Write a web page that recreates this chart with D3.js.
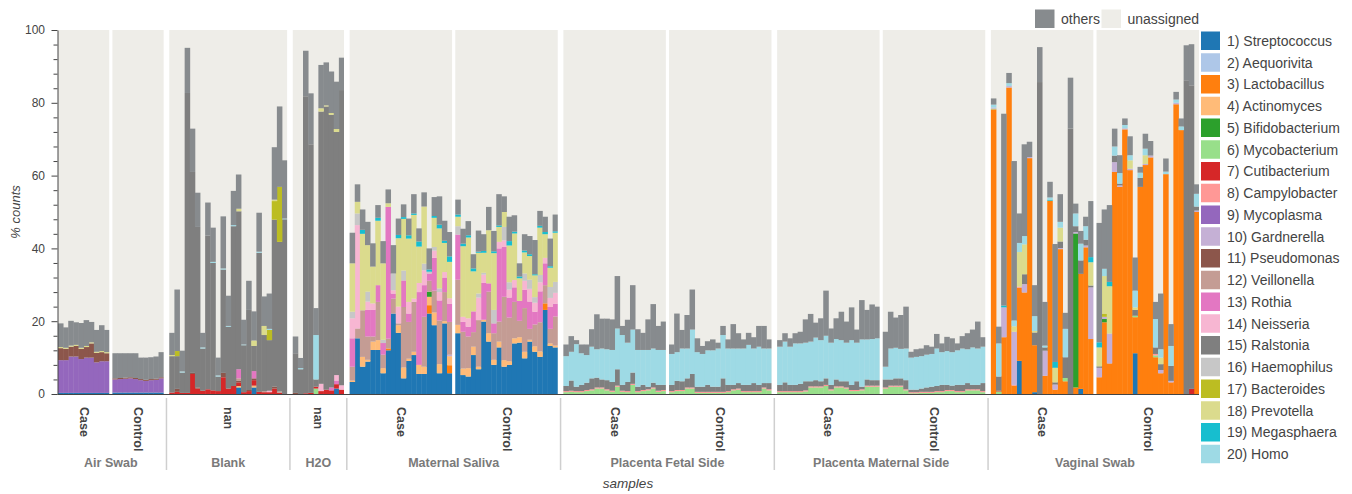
<!DOCTYPE html>
<html>
<head>
<meta charset="utf-8">
<script src="https://cdn.jsdelivr.net/npm/d3@7"></script>
<style>
  body { margin: 0; background: #fff; }
  svg { display: block; font-family: "Liberation Sans", Arial, Helvetica, sans-serif; }
</style>
</head>
<body>
<svg id="chart" width="1352" height="494"></svg>
<script>
// ---- sample layout -------------------------------------------------------
const groupNames = ["Air Swab", "Blank", "H2O", "Maternal Saliva", "Placenta Fetal Side", "Placenta Maternal Side", "Vaginal Swab"];
const subgroupLabels = [["Case", "Control"], ["nan"], ["nan"], ["Case", "Control"], ["Case", "Control"], ["Case", "Control"], ["Case", "Control"]];
const subgroupSizes = [[10, 10], [23], [10], [20, 20], [20, 20], [20, 20], [20, 20]];

const taxaNames = ["1) Streptococcus", "2) Aequorivita", "3) Lactobacillus", "4) Actinomyces", "5) Bifidobacterium",
  "6) Mycobacterium", "7) Cutibacterium", "8) Campylobacter", "9) Mycoplasma", "10) Gardnerella",
  "11) Pseudomonas", "12) Veillonella", "13) Rothia", "14) Neisseria", "15) Ralstonia",
  "16) Haemophilus", "17) Bacteroides", "18) Prevotella", "19) Megasphaera", "20) Homo"];
const taxaColors = ["#1f77b4", "#aec7e8", "#ff7f0e", "#ffbb78", "#2ca02c", "#98df8a", "#d62728", "#ff9896", "#9467bd", "#c5b0d5",
  "#8c564b", "#c49c94", "#e377c2", "#f7b6d2", "#7f7f7f", "#c7c7c7", "#bcbd22", "#dbdb8d", "#17becf", "#9edae5"];
const othersColor = "#878b8e";
const unassignedColor = "#eeede8";
const yTicks = [0, 20, 40, 60, 80, 100];

// ---- % counts per sample (rows: AirSwab Case, AirSwab Control, Blank, H2O,
//      MatSaliva Case, MatSaliva Control, PlacFetal Case, PlacFetal Control,
//      PlacMaternal Case, PlacMaternal Control, Vaginal Case, Vaginal Control)
const streptococcus = [
  0.3,0.3,0.3,0.3,0.3,0.3,0.3,0.3,0.3,0.3,
  0.4,0.4,0.4,0.4,0.4,0.4,0.4,0.4,0.4,0.4,
  0,0,0,0,0,0,0,0,0,0,0,0,0,1.8,0,0,1.8,0,0,0,0,0,0,
  0,0,0,0,0,0,0,0,1.5,0,
  3.3,15.3,7.5,8.9,12.1,12.1,5.7,12.0,22.1,16.8,4.3,9.1,10.7,5.5,5.5,22.1,18.9,5.7,19.4,5.7,
  16.7,5.2,4.8,10.7,6.8,19.9,14.4,8.0,12.8,7.5,8.0,13.9,14.1,9.8,14.4,11.6,10.2,23.1,13.2,12.8,
  0,0,0,0,0,0,0,0,0,0,0,0,0,0,0,0,0,0,0,0,
  0,0,0,0,0,0,0,0,0,0,0,0,0,0,0,0,0,0,0,0,
  0,0,0,0,0,0,0,0,0,0,0,0,0,0,0,0,0,0,0,0,
  0,0,0,0,0,0,0,0,0,0,0,0,0,0,0,0,0,0,0,0,
  0,0,0,0,0,9.1,0,0,0.5,0,0,0,0,0,0,0,0,1.4,0,0,
  0,0,0,0,0,0,0,11.2,0,0,0,0,0,0,0,0,0,0,0,0
];
const aequorivita = []; // below display threshold in every sample
const lactobacillus = [
  0,0,0,0,0,0,0,0,0,0,
  0,0,0,0,0,0,0,0,0,0,
  0,0,0,0,0,0,0,0,0,0,0,0,0,0,0,0,0,0,0,0,0,0,0,
  0,0,0,0,0,0,0,0,0,0,
  0,0,0,0,0,0,0,0.5,0,0,0,0,0,0,0,2.3,0,0,0,2.2,
  0,0,0,0,0,0,0,0,0,0,0,0,0,0,0,0,0,1.8,0,0,
  0,0,0,0,0,0,0,0,0,0,0,0,0,0,0,0,0,0,0,0,
  0,0,0,0,0,0,0,0,0,0,0,0,0,0,0,0,0,0,0,0,
  0,0,0,0,0,0,0,0,0,0,0,0,0,0,0,0,0,0,0,0,
  0,0,0,0,0,0,0,0,0,0,0,0,0,0,0,0,0,0,0,0,
  78.2,0,15.6,84.2,2.3,20.1,27.9,64.8,12.9,0,5.0,53.1,1.2,39.8,3.5,0,1.8,31.6,40.3,15.1,
  4.6,19.7,8.4,61.0,56.9,72.7,61.5,9.9,56.9,62.9,65.0,10.1,5.7,60.4,3.2,79.6,72.5,0,0,50.0
];
const actinomyces = [
  0,0,0,0,0,0,0,0,0,0,
  0,0,0,0,0,0,0,0,0,0,
  0,0,0,0,0,0,0,0,0,0,0,0,0,0.4,0,0,0.5,0,0,0,0,0,0,
  0,0,0,0,0,0,0,0,0,0,
  0.4,0,2.7,0.5,2.3,2.7,1.4,0,0,2.1,3.0,0.6,0.9,2.5,2.0,2.3,3.5,2.5,0.6,2.5,
  2.3,1.8,2.3,2.3,0.7,0.5,2.3,1.4,1.6,1.8,1.0,1.4,1.5,1.8,0.5,1.5,1.5,0,0.7,0.5,
  0,0,0,0,0,0,0,0,0,0,0,0,0,0,0,0,0,0,0,0,
  0,0,0,0,0,0,0,0,0,0,0,0,0,0,0,0,0,0,0,0,
  0,0,0,0,0,0,0,0,0,0,0,0,0,0,0,0,0,0,0,0,
  0,0,0,0,0,0,0,0,0,0,0,0,0,0,0,0,0,0,0,0,
  0,0,0,0,0,0,0,0,0,0,0,0,0,0,0,0,0,0,0,0,
  0,0,0,0,0,0,0,0,0,0,0,0,0,0,0,0,0,0,0,0
];
const bifidobacterium = [
  0,0,0,0,0,0,0,0,0,0,
  0,0,0,0,0,0,0,0,0,0,
  0,0,0,0,0,0,0,0,0,0,0,0,0,0,0,0,0,0,0,0,0,0,0,
  0,0,0,0,0,0,0,0,0,0,
  0,0,0,0,0,0,0,0,0,0,0,0,0,0,0,1.4,0,0,0,0,
  0,0,0,0,0,0,0,0,0,0,0,0,0,0,0,0,0,0,0,0,
  0,0,0,0,0,0,0,0,0,0,0,0,0,0,0,0,0,0,0,0,
  0,0,0,0,0,0,0,0,0,0,0,0,0,0,0,0,0,0,0,0,
  0,0,0,0,0,0,0,0,0,0,0,0,0,0,0,0,0,0,0,0,
  0,0,0,0,0,0,0,0,0,0,0,0,0,0,0,0,0,0,0,0,
  0,0,0,0,0,0,0,0,0,0,0,0,0,0,0,0,42.3,0,0,0,
  0,0.9,0,0,0,0,0,0,0,0,0,0,0,0,0,0,0,0,0,0
];
const mycobacterium = [
  0,0,0,0,0,0,0,0,0,0,
  0,0,0,0,0,0,0,0,0,0,
  0,0,0,0,0,0,0,0,0,0,0,0,0,0,0,0,0,0,0,0,0,0,0,
  0,0,0,0,1.5,0,0,0,0,0,
  0,0,0,0,0,0,0,0,0,0,0,0,0,0,0,0,0,0,0,0,
  0,0,0,0,0,0,0,0,0,0,0,0,0,0,0,0,0,0,0,0,
  0.5,0.6,0.5,0.5,0.8,1.0,1.5,1.5,1.0,0.6,2.0,0.6,0.5,2.5,0.5,0.8,1.0,1.5,0.6,0.8,
  0.5,0.8,0.8,1.5,1.5,0.3,0.3,0.3,0.3,0.3,0.3,0.5,1.0,1.2,0.5,0.5,0.5,0.5,1.5,1.0,
  0.5,0.5,0.5,0.5,0.5,0.7,1.8,1.8,1.8,2.2,1.0,1.8,1.8,1.5,0.8,0.8,1.0,2.0,2.0,2.0,
  1.5,2.0,2.0,2.0,1.0,0.2,0.2,0.3,0.3,0.3,0.5,0.5,0.8,0.8,0.5,0.5,1.0,1.0,1.0,0.5,
  0.2,0.7,0,0,0,0,0,0,0,0,0,0,0,0,0.9,0,0,0,0,0,
  0,0,0,0,0,0,0,0.4,0,0,0,0.5,0,0,0,0,0,0,0,0
];
const cutibacterium = [
  0,0,0,0,0,0,0,0,0,0,
  0,0,0,0,0,0,0,0,0,0,
  0.4,0.6,0.3,0.3,5.5,1.5,0.9,1.3,1.0,0.8,4.6,1.5,2.2,1.0,0.5,0.8,1.5,0.6,0.5,0.5,1.5,0.3,0,
  0,0,0.2,0.3,0.5,0.8,1.2,1.0,1.2,1.2,
  0,0,0,0,0,0,0,0,0,0,0,0,0,0,0,0,0,0,0,0,
  0,0,0,0,0,0,0,0,0,0,0,0,0,0,0,0,0,0,0,0,
  0,0,0,0,0,0,0,0,0,0,0,0,0,0,0,0,0,0,0,0,
  0,0,0,0,0,0,0,0,0,0,0,0,0,0,0,0,0,0,0,0,
  0,0,0,0,0,0,0,0,0,0,0,0,0,0,0,0,0,0,0,0,
  0,0,0,0,0,0,0,0,0,0,0,0,0,0,0,0,0,0,0,0,
  0,0.2,0,0,0,0,0,0,0,0,0,0,0,0,0,0,0,0,0,0,
  0,0,0,0,0,0,0,0,0,0,0,0,0,0,0,0,0,0,1.4,0
];
const campylobacter = [
  0,0,0,0,0,0,0,0,0,0,
  0,0,0,0,0,0,0,0,0,0,
  0,0,0,0,0,0,0,0,0,0,0,0,0,0,0,0,0,0,0,0,0,0,0,
  0,0,0,0,0,0,0,0,0,0,
  0,0,0,0,0,0,0,0,0,0,0,0,0,0,0,0,0,0,0,0,
  0,0,0,0,0,0,0,0,0,0,0,0,0,0,0,0,0,0,0,0,
  0.3,0.3,0.3,0.3,0.3,0.3,0.3,0.3,0.3,0.3,0.3,0.3,0.3,0.3,0.3,0.3,0.3,0.3,0.3,0.3,
  0.3,0.3,0.3,0.3,0.3,0.3,0.3,0.3,0.3,0.3,0.3,0.3,0.3,0.3,0.3,0.3,0.3,0.3,0.3,0.3,
  0.3,0.3,0.3,0.3,0.3,0.3,0.3,0.3,0.3,0.3,0.3,0.3,0.3,0.3,0.3,0.3,0.3,0.3,0.3,0.3,
  0.3,0.3,0.3,0.3,0.3,0.3,0.3,0.3,0.3,0.3,0.3,0.3,0.3,0.3,0.3,0.3,0.3,0.3,0.3,0.3,
  0,0,0,0,0.2,0.3,0,0,0,0,0,0,0,0,0,0,0,0,0,0,
  0,0,0,0,0,0,0,0,0,0,0,0.4,0,0,0,0,0,0,0,0
];
const mycoplasma = [
  9.0,9.0,10.0,10.0,9.3,9.7,9.7,8.4,8.7,8.7,
  3.6,3.7,3.8,3.9,3.7,3.4,3.2,3.4,3.5,3.9,
  0,0,0,0,0,0,0,0,0,0,0,0,0,0,0,0,0,0,0,0,0,0,0,
  0,0,0,0,0,0,0,0,0,0,
  0,0,0,0,0,0,0,0,0,0,0,0,0,0,0,0,0,0,0,0,
  0,0,0,0,0,0,0,0,0,0,0,0,0,0,0,0,0,0,0,0,
  0,0,0,0,0,0,0,0,0,0,0,0,0,0,0,0,0,0,0,0,
  0,0,0,0,0,0,0,0,0,0,0,0,0,0,0,0,0,0,0,0,
  0,0,0,0,0,0,0,0,0,0,0,0,0,0,0,0,0,0,0,0,
  0,0,0,0,0,0,0,0,0,0,0,0,0,0,0,0,0,0,0,0,
  0,0,0,0,0,0,0,0,0,0,0,0,0,0,0,0,0,0,0,0,
  0,0,0,0,0,0,0,0,0,0,0,0,0,0,0,0,0,0,0,0
];
const gardnerella = [
  0,0,0,0,0,0,0,0,0,0,
  0,0,0,0,0,0,0,0,0,0,
  0,0,0,0,0,0,0,0,0,0,0,0,0,0,0,0,0,0,0,0,0,0,0,
  0,0,0,0,0,0,0,0,0,0,
  0,0,0,0,0,0,0,0,0,0,0,0,0,0,0,0,0,0,0,0.4,
  0,0,0,0,0,0,0,0,0,0,0,0,0,0,0,0,0,0,0,0,
  0,0,0,0,0,0,0,0,0,0,0,0,0,0,0,0,0,0,0,0,
  0,0,0,0,0,0,0,0,0,0,0,0,0,0,0,0,0,0,0,0,
  0,0,0,0,0,0,0,0,0,0,0,0,0,0,0,0,0,0,0,0,
  0,0,0,0,0,0,0,0,0,0,0,0,0,0,0,0,0,0,0,0,
  0.3,0,8.2,0.4,14.6,0,2.3,0.3,0,0,6.9,0,1.4,0.3,0,0,0.4,0,0.5,14.2,
  2.6,0.6,8.2,2.7,0.4,0.3,0.4,0,0,0.3,0.5,0,0.9,0,0.4,0.4,0,0,0,0.4
];
const pseudomonas = [
  3.3,3.1,2.7,2.9,2.8,2.9,3.9,2.6,2.5,2.2,
  0.3,0.3,0.3,0.3,0.3,0.3,0.3,0.3,0.3,0.3,
  0,0.8,0,0,0.3,0.3,0,0,0,0,1.2,0,0,0.5,0,0.3,0.5,0,0,0,0.5,0,0,
  0.3,0,0,0,0,0,0,0,0,0,
  0,0,0,0,0,0,0,0,0,0,0,0,0,0,0,0,0,0,0,0,
  0,0,0,0,0,0,0,0,0,0,0,0,0,0,0,0,0,0,0,0,
  0,0,0,0,0,0,0,0,0,0,0,0,0,0,0,0,0,0,0,0,
  0,0,0,0,0,0,0,0,0,0,0,0,0,0,0,0,0,0,0,0,
  0,0,0,0,0,0,0,0,0,0,0,0,0,0,0,0,0,0,0,0,
  0,0,0,0,0,0,0,0,0,0,0,0,0,0,0,0,0,0,0,0,
  0,0,0,0,0,0,0,0,0,0,0,0,0,0,0,0,0,0,0,0,
  0,0,0,0,0,0,0,0,0,0,0,0,0,0,0,0,0,0,0,0
];
const veillonella = [
  0,0,0,0,0,0,0,0,0,0,
  0,0,0,0,0,0,0,0,0,0,
  0,0,0,0,0,0,0,0,0,0,0,0,0,0.6,0,0,0,0,0.3,0,0,0.4,0,
  0,0,0,0,0,0,0,0,0,0,
  3.8,2.7,12.8,6.4,1.4,10.5,3.7,2.7,4.1,0.5,16.6,10.1,13.7,0,13.7,3.0,6.0,12.0,8.0,9.0,
  12.4,10.1,8.7,4.0,12.8,0,11.4,7.3,5.5,17.4,12.0,10.0,4.5,12.0,3.0,6.0,8.0,5.0,4.0,8.0,
  0,0,0,0,0,0,0,0,0,0,0,0,0,0,0,0,0,0,0,0,
  0,0,0,0,0,0,0,0,0,0,0,0,0,0,0,0,0,0,0,0,
  0,0,0,0,0,0,0,0,0,0,0,0,0,0,0,0,0,0,0,0,
  0,0,0,0,0,0,0,0,0,0,0,0,0,0,0,0,0,0,0,0,
  0,0,0,0,0,0,0,0,0,0,0,0,0,0,0,0,0,0,0,0,
  0,0,0,0,0,0,0,0,0,0,0,0,0,0,0,0,0,0,0,0
];
const rothia = [
  0,0,0,0,0,0,0,0,0,0,
  0,0,0,0,0,0,0,0,0,0,
  0,0,0,0,0,0,0,0,0,0,0,0,0,2.5,0,0,2.0,0,0,0,0,0,0,
  0,0,0,0,0,0,0,0.8,1.0,0,
  7.8,0,0,7.3,7.3,4.6,3.2,36.2,1.4,0,7.3,2.3,0,20.0,8.7,2.0,9.0,5.5,4.0,5.0,
  12.4,2.7,2.7,5.7,0,10.1,2.3,2.7,20.1,13.7,5.5,4.0,5.5,5.0,7.5,3.5,8.5,6.0,6.0,3.5,
  0,0,0,0,0,0,0,0,0,0,0,0,0,0,0,0,0,0,0,0,
  0,0,0,0,0,0,0,0,0,0,0,0,0,0,0,0,0,0,0,0,
  0,0,0,0,0,0,0,0,0,0,0,0,0,0,0,0,0,0,0,0,
  0,0,0,0,0,0,0,0,0,0,0,0,0,0,0,0,0,0,0,0,
  0,0,0,0,0,0,0,0,0,0,0,0,0,0,0,0,0,0,0,0,
  0,0,0,0,0,0,0,0,0,0,0,0,0,0,0,0,0,0,0,0
];
const neisseria = [
  0,0,0,0,0,0,0,0,0,0,
  0,0,0,0,0,0,0,0,0,0,
  0,0,0,0,0,0,0,0,0,0,0,0,0,0,0,0,0,0,0,0.4,0,0,0,
  0,0,0,0,0,2.0,0,0,1.5,1.2,
  5.5,28.4,0,2.3,1.8,0,0,0,0.9,4.6,0,3.2,0.9,2.5,4.1,0,2.0,2.3,1.5,1.5,
  0,1.4,2.3,0,6.2,2.3,0,0,1.8,1.8,2.2,2.0,0,2.5,3.5,2.5,2.5,1.5,2.5,3.0,
  0,0,0,0,0,0,0,0,0,0,0,0,0,0,0,0,0,0,0,0,
  0,0,0,0,0,0,0,0,0,0,0,0,0,0,0,0,0,0,0,0,
  0,0,0,0,0,0,0,0,0,0,0,0,0,0,0,0,0,0,0,0,
  0,0,0,0,0,0,0,0,0,0,0,0,0,0,0,0,0,0,0,0,
  0,0,0,0,0,0,0,0,0,0,0,0,0,0,0,0,0,0,0,0,
  0,0,0,0,0,0,0,0,0,0,0,0,0,0,0,0,0,0,0,0
];
const ralstonia = [
  0,0,0,0,0,0,0,0,0,0,
  0,0,0,0,0,0,0,0,0,0,
  10.0,9.0,5.6,82.4,55.2,44.1,11.6,42.2,35.0,4.0,28.4,17.0,43.9,43.4,12.9,22.0,6.9,38.2,15.4,13.9,45.9,41.1,48.0,
  10.9,6.8,81.6,68.3,2.0,74.8,77.8,74.9,66.8,81.1,
  0,0,0,0,0,0,0,0,0,0,0,0,0,0,0,0,0,0,0,0,
  0,0,0,0,0,0,0,0,0,0,0,0,0,0,0,0,0,0,0,0,
  1.4,2.8,1.2,1.7,2.0,3.0,2.7,2.2,2.5,2.4,4.5,1.6,2.5,3.1,1.2,1.4,0.7,1.3,1.6,1.4,
  1.7,2.5,2.4,2.5,3.7,1.4,1.4,1.9,1.4,1.4,3.7,1.7,1.2,1.5,1.7,1.7,2.2,1.7,1.2,1.7,
  1.7,2.4,1.7,1.7,2.0,2.5,1.4,1.7,1.4,1.8,1.2,1.9,1.4,1.7,1.4,2.4,0.7,1.7,1.5,1.5,
  2.2,1.7,2.0,2.0,2.5,0.7,0.7,0.9,1.2,1.4,1.4,1.7,1.4,1.2,1.7,1.7,1.7,1.2,1.2,2.2,
  0,3.9,0,0,0,0,2.7,0,3.5,85.7,0.9,0,0.6,1.8,5.7,72.9,1.6,3.7,1.6,0.5,
  0.4,0,0,1.8,0.5,0,0,1.6,2.5,0,0,1.8,1.6,0,4.1,0,0,86.2,83.4,1.1
];
const haemophilus = [
  0,0,0,0,0,0,0,0,0,0,
  0,0,0,0,0,0,0,0,0,0,
  0,0,0,0,0,0,0,0,0,0,0,0,0,0,0,0,0,0,0,0,0,0,0,
  0,0,0,0,0,0,0,0,0,0,
  1.8,3.2,0,2.7,0,0,0.9,0,4.6,0,2.7,0,0,0,1.8,0.5,1.0,1.0,0,0,
  2.3,0,0,0,1.1,0.5,0,3.7,0,3.7,2.0,0,0,2.0,2.5,1.5,2.0,0,3.0,3.0,
  0,0,0,0,0,0,0,0,0,0,0,0,0,0,0,0,0,0,0,0,
  0,0,0,0,0,0,0,0,0,0,0,0,0,0,0,0,0,0,0,0,
  0,0,0,0,0,0,0,0,0,0,0,0,0,0,0,0,0,0,0,0,
  0,0,0,0,0,0,0,0,0,0,0,0,0,0,0,0,0,0,0,0,
  0,0,0,0,0,0,0,0,0,0,0,0,0,0,0,0,0,0,0,0,
  0,0,0,0,0,0,0,0,0,0,0,0,0,0,0,0,0,0,0,0
];
const bacteroides = [
  0,0,0,0,0,0,0,0,0,0,
  0,0,0,0,0,0,0,0,0,0,
  0,1.4,0,0,0,0,0,0,0,0,0,0,0,0,0,0,0,0,0,2.8,5.1,15.1,0,
  0,0,0,0,0,0,0,0,0,0,
  0,0,0,0,0,0,0,0,0,0,0,0,0,0,0,0,0,0,0,0,
  0,0,0,0,0,0,0,0,0,0,0,0,0,0,0,0,0,0,0,0,
  0,0,0,0,0,0,0,0,0,0,0,0,0,0,0,0,0,0,0,0,
  0,0,0,0,0,0,0,0,0,0,0,0,0,0,0,0,0,0,0,0,
  0,0,0,0,0,0,0,0,0,0,0,0,0,0,0,0,0,0,0,0,
  0,0,0,0,0,0,0,0,0,0,0,0,0,0,0,0,0,0,0,0,
  0,0,0,0,0,0,0,0,0,0,0,0,0,0,0,0,0,0,0,0,
  0,0.9,0,0,0,0,0,0,0,0,0,0,0,0,0,0,0,0,0,0
];
const prevotella = [
  0.3,0.3,0.3,0.3,0.3,0.3,0.3,0.3,0.3,0.3,
  0,0,0,0,0,0,0,0,0,0,
  0.3,0,0,0,0,0,0,0,0,0,0,0,0,0.7,0,0,1.5,0,2.5,0,0.4,0,0,
  0,0,0,0,0,0.9,0.3,0.5,0.8,0,
  13.3,3.2,21.0,12.8,10.1,17.7,21.0,1.0,0,18.8,14.2,17.4,23.0,10.0,15.7,0,8.0,16.5,8.0,10.0,
  2.6,19.4,22.2,11.0,11.2,5.5,14.6,15.6,4.1,4.1,10.1,12.8,6.2,5.8,6.5,6.0,13.0,6.5,5.3,13.5,
  0,0,0,0,0,0,0,0,0,0,0,0,0,0,0,0,0,0,0,0,
  0,0,0,0,0,0,0,0,0,0,0,0,0,0,0,0,0,0,0,0,
  0,0,0,0,0,0,0,0,0,0,0,0,0,0,0,0,0,0,0,0,
  0,0,0,0,0,0,0,0,0,0,0,0,0,0,0,0,0,0,0,0,
  0,0,0,0,1.5,9.5,8.2,0,0.4,0,0,0,4.0,3.8,0,0,0,0,0,6.4,
  5.2,10.3,13.0,0,0,0,2.3,0.7,0,2.4,0,0,1.8,0,0,0,0,0,0,0
];
const megasphaera = [
  0,0,0,0,0,0,0,0,0,0,
  0,0,0,0,0,0,0,0,0,0,
  0,0,0,0,0,0,0,0,0,0,0,0,0,0,0,0,0,0,0,0,0,0,0,
  0,0,0,0,0,0,0,0,0,0,
  0,0,1.1,0,0,0.8,0,0,0,0.9,0.5,0.9,0.4,1.4,0,0.6,0.5,1.0,0.6,1.5,
  0.6,0.7,0.6,0.8,0.3,0.5,0,0.5,0.4,0,1.2,0.5,0.5,0.5,0.5,0.3,0.5,0.6,0.4,0.4,
  0,0,0,0,0,0,0,0,0,0,0,0,0,0,0,0,0,0,0,0,
  0,0,0,0,0,0,0,0,0,0,0,0,0,0,0,0,0,0,0,0,
  0,0,0,0,0,0,0,0,0,0,0,0,0,0,0,0,0,0,0,0,
  0,0,0,0,0,0,0,0,0,0,0,0,0,0,0,0,0,0,0,0,
  0,0,0.5,0,0,0,0,0,0,0,0,0.3,1.6,0,0,0,0,0,0,1.4,
  1.4,0,1.2,0,0,0,0,0,0,0,0,0,0,0,0,0,0,0,0,0
];
const homo = [
  0,0,0,0,0,0,0,0,0,0,
  0,0,0,0,0,0,0,0,0,0,
  0,0,0.3,0,0,0,0.3,0,0.3,0.3,0.3,0.2,0.3,0,0.2,0,0,0.3,0,0.3,0,0,0.2,
  0,0.3,0,0,12.2,0,0,0,0,0,
  0,0,0,0,0,0,0,0,0,0,0,0,0,0,0,0,0,0,0,0,
  0,0,0,0,0,0,0,0,0,0,0,0,0,0,0,0,0,0,0,0,
  8.2,7.9,11.7,8.7,7.6,8.7,7.8,8.5,8.5,8.8,11.2,13.7,10.8,11.8,10.1,9.6,10.1,9.4,9.6,9.6,
  8.5,7.9,9.0,8.2,12.2,9.5,9.0,9.5,10.0,10.5,11.9,10.0,10.0,9.5,10.0,11.0,9.5,10.5,9.5,9.5,
  10.5,11.2,10.5,11.4,11.1,10.6,10.9,11.7,11.3,11.7,11.6,11.1,11.3,10.6,12.3,10.6,13.0,11.0,11.3,11.5,
  3.5,8.5,8.4,8.1,8.7,8.8,9.0,8.9,9.0,9.0,10.3,9.0,9.3,9.2,9.5,10.0,9.3,10.3,10.0,10.0,
  0.8,9.1,0,0.8,1.6,2.5,2.3,0,4.1,0,0.5,0.6,0,1.6,7.8,0,3.5,4.6,3.7,0,
  0,2.0,0,2.5,2.9,0.9,1.4,4.6,1.4,1.8,0,7.8,2.3,0.7,5.5,0.9,1.0,0,0,3.5
];
const others = [
  6.5,5.6,6.8,6.2,6.8,7.1,5.6,6.0,7.1,6.1,
  6.9,6.8,6.7,6.6,6.8,5.9,6.1,6.0,6.1,6.9,
  6.1,16.9,5.7,12.4,11.9,9.4,4.0,9.1,9.4,4.9,14.3,8.3,9.4,9.4,6.8,8.0,8.0,10.7,8.1,9.7,14.4,22.1,16.0,
  4.6,2.8,12.5,14.0,7.4,11.9,11.8,11.4,13.0,8.9,
  8.4,4.8,5.6,6.4,6.4,3.5,6.1,3.8,7.8,4.5,3.5,4.6,5.3,3.6,3.9,5.8,5.2,7.8,5.5,6.7,
  4.1,4.1,3.9,3.9,5.8,4.6,6.4,5.6,8.6,4.3,6.7,4.5,3.6,4.5,5.0,9.4,4.1,4.2,7.6,4.6,
  3.2,4.3,1.1,2.4,2.9,4.8,9.6,8.2,8.4,8.4,14.4,2.5,6.3,12.2,5.7,4.7,8.4,12.2,6.6,7.8,
  2.6,10.6,5.1,9.2,11.0,3.8,2.2,2.5,3.0,1.6,2.5,2.5,6.7,4.2,2.5,3.3,3.1,5.7,6.2,2.5,
  1.8,2.3,2.3,2.8,3.2,6.4,7.6,4.1,6.0,12.4,3.9,5.7,7.8,5.8,9.0,3.6,10.8,8.1,9.5,8.7,
  9.6,10.1,8.3,9.3,11.5,1.6,2.1,2.1,2.6,2.0,4.0,2.4,3.9,3.8,1.9,3.4,4.4,4.9,7.4,2.6,
  1.7,4.6,52.7,2.8,43.8,8.1,25.2,4.2,8.5,9.6,12.0,4.3,32.4,7.6,4.4,14.0,2.7,3.5,2.6,15.4,
  32.8,16.3,21.1,4.9,4.9,1.8,5.2,9.1,1.6,4.1,4.0,4.7,15.3,3.6,6.0,2.1,2.2,9.6,11.3,2.6
];

const seriesValues = [streptococcus, aequorivita, lactobacillus, actinomyces, bifidobacterium,
  mycobacterium, cutibacterium, campylobacter, mycoplasma, gardnerella,
  pseudomonas, veillonella, rothia, neisseria, ralstonia,
  haemophilus, bacteroides, prevotella, megasphaera, homo, others];
const seriesKeys = taxaNames.concat(["others"]);
const seriesColors = taxaColors.concat([othersColor]);

// ---- positions on a continuous unit axis (one unit per sample) ----------
const SUB_GAP = 0.62, GROUP_GAP = 1.1;
const slots = [], subSpans = [], groupSpans = [];
let u = 0, idx = 0;
groupNames.forEach((g, gi) => {
  if (gi > 0) u += GROUP_GAP;
  const gStart = u;
  subgroupSizes[gi].forEach((n, si) => {
    if (si > 0) u += SUB_GAP;
    const sStart = u;
    for (let k = 0; k < n; k++) { slots.push({ i: idx++, u0: u, last: k === n - 1 }); u += 1; }
    subSpans.push({ label: subgroupLabels[gi][si], u0: sStart, u1: u });
  });
  groupSpans.push({ label: g, u0: gStart, u1: u });
});

const svg = d3.select("#chart");
const x = d3.scaleLinear().domain([0, u]).range([58, 1199]);
const y = d3.scaleLinear().domain([0, 100]).range([394, 30]);

// rows for d3.stack
const rows = slots.map(s => {
  const r = {};
  seriesKeys.forEach((k, j) => { r[k] = seriesValues[j][s.i] || 0; });
  return r;
});
const stacked = d3.stack().keys(seriesKeys)(rows);

// unassigned background for each sub-group (fills to 100%)
svg.append("g").selectAll("rect").data(subSpans).join("rect")
  .attr("x", d => x(d.u0)).attr("width", d => x(d.u1) - x(d.u0))
  .attr("y", y(100)).attr("height", y(0) - y(100))
  .attr("fill", unassignedColor);

// stacked bars
const barsG = svg.append("g");
stacked.forEach((layer, j) => {
  barsG.append("g").attr("fill", seriesColors[j])
    .selectAll("rect")
    .data(layer.map((d, i) => ({ d, s: slots[i] })).filter(e => e.d[1] - e.d[0] > 0))
    .join("rect")
    .attr("x", e => x(e.s.u0))
    .attr("width", e => x(e.s.u0 + 1) - x(e.s.u0) + (e.s.last ? 0 : 0.4))
    .attr("y", e => y(e.d[1]))
    .attr("height", e => y(e.d[0]) - y(e.d[1]));
});

// ---- y axis ---------------------------------------------------------------
const axisColor = "#444";
const yAxis = svg.append("g").attr("transform", "translate(57.5,0)")
  .call(d3.axisLeft(y).tickValues(yTicks).tickSize(6).tickPadding(6.5).tickSizeOuter(0));
yAxis.selectAll("text").attr("font-size", 12).attr("fill", axisColor)
  .attr("font-family", "'Liberation Sans', Arial, sans-serif");
yAxis.selectAll("line, path").attr("stroke", axisColor);
const minor = d3.range(0, 101, 4).filter(v => v % 20 !== 0);
svg.append("g").attr("transform", "translate(57.5,0)")
  .call(d3.axisLeft(y).tickValues(minor).tickSize(4).tickFormat("").tickSizeOuter(0))
  .call(g => g.select(".domain").remove())
  .selectAll("line").attr("stroke", axisColor);

svg.append("text")
  .attr("transform", "translate(19.5,212) rotate(-90)")
  .attr("text-anchor", "middle").attr("font-size", 13).attr("font-style", "italic")
  .attr("fill", axisColor).text("% counts");

// ---- x axis (nested categorical) -----------------------------------------
svg.append("line").attr("x1", 57.5).attr("x2", 1199).attr("y1", 394.5).attr("y2", 394.5)
  .attr("stroke", axisColor).attr("stroke-width", 1);

svg.append("g").selectAll("text").data(subSpans).join("text")
  .attr("transform", d => `translate(${(x(d.u0) + x(d.u1)) / 2},407) rotate(90)`)
  .attr("dominant-baseline", "central")
  .attr("font-size", 12.5).attr("font-weight", "bold").attr("fill", axisColor)
  .text(d => d.label);

svg.append("g").selectAll("text").data(groupSpans).join("text")
  .attr("x", d => (x(d.u0) + x(d.u1)) / 2).attr("y", 467)
  .attr("text-anchor", "middle").attr("font-size", 12.5).attr("font-weight", "bold")
  .attr("fill", "#7a7a7a").text(d => d.label);

// separators between groups
const seps = groupSpans.slice(1).map((g, i) => (x(groupSpans[i].u1) + x(g.u0)) / 2);
svg.append("g").selectAll("line").data(seps).join("line")
  .attr("x1", d => d).attr("x2", d => d).attr("y1", 398).attr("y2", 470)
  .attr("stroke", "#cfcfcf").attr("stroke-width", 1.5);

svg.append("text").attr("x", 628).attr("y", 488)
  .attr("text-anchor", "middle").attr("font-size", 13.5).attr("font-style", "italic")
  .attr("fill", axisColor).text("samples");

// ---- legends ----------------------------------------------------------------
const legendFont = 14;
const topLegend = [{ label: "others", color: othersColor, x: 1035 }, { label: "unassigned", color: unassignedColor, x: 1101.5 }];
const tl = svg.append("g").selectAll("g").data(topLegend).join("g");
tl.append("rect").attr("x", d => d.x).attr("y", 9.5).attr("width", 19.5).attr("height", 18.5).attr("fill", d => d.color);
tl.append("text").attr("x", d => d.x + 26).attr("y", 18.75).attr("dominant-baseline", "central")
  .attr("font-size", legendFont).attr("fill", axisColor).text(d => d.label);

const rl = svg.append("g").selectAll("g").data(taxaNames).join("g")
  .attr("transform", (d, i) => `translate(1201,${31.5 + i * 21.75})`);
rl.append("rect").attr("width", 19).attr("height", 18.5).attr("fill", (d, i) => taxaColors[i]);
rl.append("text").attr("x", 26).attr("y", 9.25).attr("dominant-baseline", "central")
  .attr("font-size", legendFont).attr("fill", axisColor).text(d => d);
</script>
</body>
</html>
